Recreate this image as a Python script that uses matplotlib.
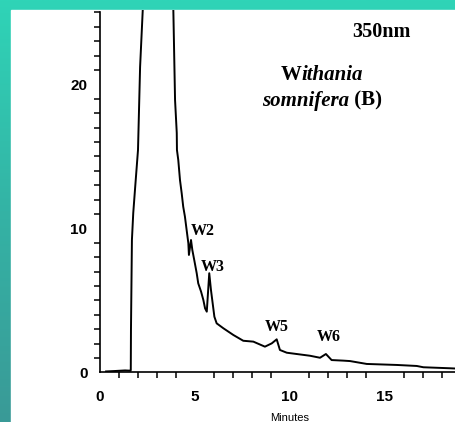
import numpy as np
import matplotlib
matplotlib.use("Agg")
import matplotlib.pyplot as plt
from matplotlib.colors import LinearSegmentedColormap
from matplotlib.patches import Rectangle

# trace (minutes, absorbance units)
t_min = [0.32, 0.79, 1.32, 1.61, 1.62, 1.63, 1.68, 1.75, 1.84, 2.0, 2.11, 2.25, 3.0,
         3.86, 3.95, 4.04, 4.05, 4.12, 4.21, 4.3, 4.38, 4.47, 4.56, 4.65, 4.68,
         4.79, 4.86, 4.96, 5.09, 5.17, 5.32, 5.44, 5.53, 5.62, 5.75, 5.84, 5.93,
         6.02, 6.14, 6.49, 7.02, 7.54, 8.07, 8.68, 9.04, 9.3, 9.47, 9.83, 11.05,
         11.58, 11.89, 12.19, 12.81, 13.16, 14.04, 15.62, 16.67, 17.02, 18.42, 18.74]
signal = [0.06, 0.09, 0.13, 0.11, 0.16, 2.94, 9.19, 11.06, 12.66, 15.44, 21.2, 25.16, 45,
          25.16, 18.91, 16.62, 15.44, 14.74, 13.35, 12.43, 11.5, 10.81, 9.88, 8.96, 8.15,
          9.19, 8.49, 7.8, 6.88, 6.18, 5.6, 5.02, 4.44, 4.21, 6.88, 5.72, 4.79,
          3.86, 3.4, 3.06, 2.59, 2.19, 2.13, 1.78, 2.01, 2.29, 1.55, 1.36, 1.15,
          1.01, 1.27, 0.85, 0.81, 0.78, 0.58, 0.51, 0.44, 0.35, 0.28, 0.26]

peak_names = ["W2", "W3", "W5", "W6"]
peak_x = [5.42, 5.92, 9.3, 12.05]
peak_y = [9.81, 7.28, 3.15, 2.45]

W, H = 456, 422
fig = plt.figure(figsize=(W / 100, H / 100), dpi=100)

# teal frame (gradient) behind a white panel
bg = fig.add_axes([0, 0, 1, 1])
cmap = LinearSegmentedColormap.from_list("teal", ["#3a9a97", "#34b3a5", "#2fd4b7"])
grad = np.linspace(0, 1, 256).reshape(-1, 1)
bg.imshow(grad, aspect="auto", cmap=cmap, origin="lower", extent=[0, 1, 0, 1])
bg.add_patch(Rectangle((11 / W, 0), 1, 1 - 10 / H, color="white", zorder=2))
bg.set_xlim(0, 1)
bg.set_ylim(0, 1)
bg.axis("off")

x0, x1 = 100 / W, 1.0
y0, y1 = 1 - 372.3 / H, 1 - 10 / H
ax = fig.add_axes([x0, y0, x1 - x0, y1 - y0])
ax.patch.set_alpha(0)
ax.plot(t_min, signal, color="black", lw=1.4, solid_joinstyle="round")

ax.set_xlim(0, (W - 100) / 19.0)
ax.set_ylim(0, 362.3 / 14.4)

for s in ["top", "right"]:
    ax.spines[s].set_visible(False)
for s in ["left", "bottom"]:
    ax.spines[s].set_linewidth(1.2)
ax.spines["left"].set_bounds(0, 25)

ax.set_xticks([0, 5, 10, 15])
ax.set_yticks([0, 10, 20])
ax.set_xticks([v for v in range(1, 19) if v % 5], minor=True)
ax.set_yticks([v for v in range(1, 26) if v % 10], minor=True)
ax.tick_params(which="major", length=0, pad=9)
ax.tick_params(which="minor", length=4, width=1.1, direction="out")
for lab in ax.get_xticklabels() + ax.get_yticklabels():
    lab.set_fontfamily("Liberation Sans")
    lab.set_fontweight("bold")
    lab.set_fontsize(11)
ax.tick_params(axis="x", which="major", pad=13)

fig.text(290 / W, 1 - 421 / H, "Minutes", fontsize=8, family="Liberation Sans",
         ha="center", va="baseline")

serif = "Liberation Serif"
for name, px, py in zip(peak_names, peak_x, peak_y):
    ax.text(px, py, name, fontsize=11.5, family=serif, fontweight="bold",
            ha="center", va="center")

ax.text(14.79, 23.26, "350nm", fontsize=14.5, family=serif, fontweight="bold",
        ha="center", va="baseline")
ax.text(10.6, 20.3, "W", fontsize=15, family=serif, fontweight="bold",
        ha="right", va="baseline")
ax.text(10.6, 20.3, "ithania", fontsize=15, family=serif, fontweight="bold",
        style="italic", ha="left", va="baseline")
ax.text(13.1, 18.5, "somnifera", fontsize=15, family=serif, fontweight="bold",
        style="italic", ha="right", va="baseline")
ax.text(13.1, 18.5, " (B)", fontsize=15, family=serif, fontweight="bold",
        ha="left", va="baseline")

fig.savefig("out.png", dpi=100)
